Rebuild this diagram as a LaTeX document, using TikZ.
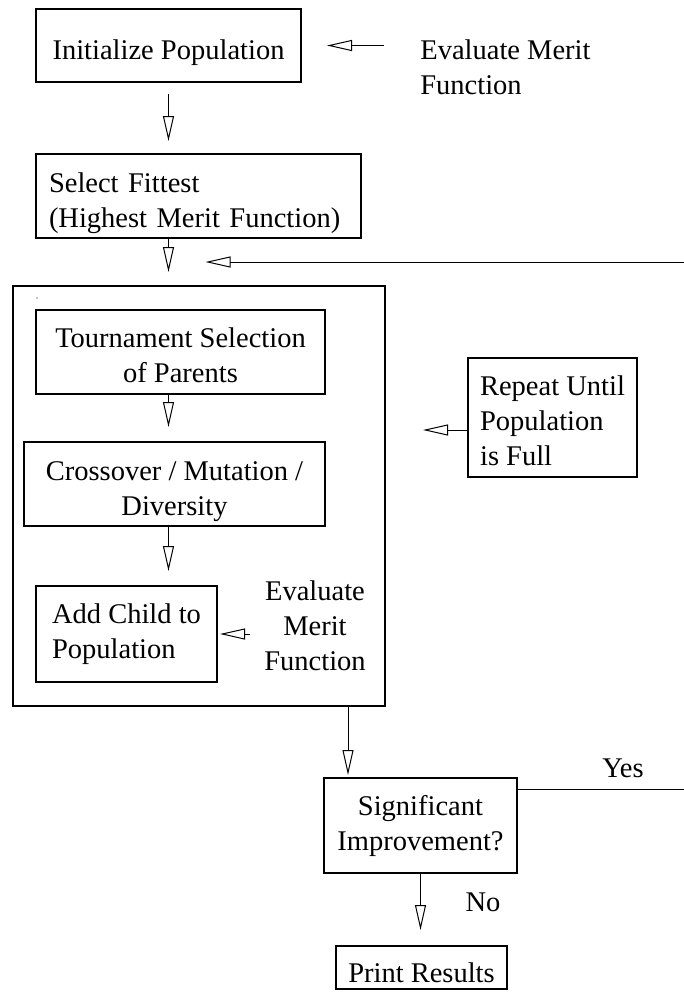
\documentclass[tikz,border=0pt]{standalone}
\usepackage{fontspec}
\setmainfont{Liberation Serif}
\usetikzlibrary{arrows.meta, calc, positioning}

\newcommand{\tdown}[1]{\rule{0pt}{#1}}

\tikzset{
  box/.style={draw, line width=0.6pt, inner sep=0pt, outer sep=0pt, align=center},
  arr/.style={-{Triangle[open, length=12.5pt, width=5.5pt]}, line width=0.5pt},
  lbl/.style={inner sep=0pt}
}

\begin{document}
\begin{tikzpicture}[x=0.5pt, y=-0.5pt, font=\fontsize{14.25pt}{17.5pt}\selectfont]
        \useasboundingbox (0,0) rectangle (684,992);

        \node [box, minimum width=132.5pt, minimum height=36.5pt, anchor=north west] (init) at (36,9) {\tdown{16.75pt}Initialize Population};
        \node [lbl, align=left, anchor=west] (evaltop) at (420,67) {Evaluate Merit\\Function};
        \node [box, text width=149.5pt, align=left, minimum width=162.5pt, minimum height=42pt, below=36pt of init.south west, anchor=north west] (fittest) {\tdown{17.25pt}Select Fittest\\(Highest Merit Function)};

        % loop of the generation
        \node [box, minimum width=186pt, minimum height=210pt, anchor=north west] (loop) at (13,286) {};
        \fill (37,298) circle (0.35pt);
        \node [box, minimum width=144.5pt, minimum height=42pt, anchor=north west] (tourn) at (36,310) {\tdown{12.75pt}Tournament Selection\\of Parents};
        \node [box, minimum width=150.5pt, minimum height=42pt, below=24pt of tourn.south west, xshift=-6pt, anchor=north west] (cross) {\tdown{16.75pt}Crossover / Mutation /\\Diversity};
        \node [box, align=left, minimum width=90.5pt, minimum height=48pt, anchor=north west] (child) at (36,586) {Add Child to\\Population};
        \node [lbl, align=center] (evalin) at (315,626) {Evaluate\\Merit\\Function};
        \node [box, align=left, minimum width=84.5pt, minimum height=59.5pt, anchor=north west] (repeat) at (468,358) {\tdown{12.75pt}Repeat Until\\Population\\is Full};

        \node [box, minimum width=96.5pt, minimum height=47.5pt, anchor=north west] (signif) at (324,778) {Significant\\Improvement?};
        \node [box, minimum width=85.5pt, minimum height=21.5pt, anchor=north west] (print) at (336,946) {\tdown{14.75pt}Print Results};
        \node [lbl] (yes) at (623,768) {Yes};
        \node [lbl] (no) at (483,902) {No};

        \coordinate (fb) at ($(init.south |- fittest.south)!0.5!(init.south |- loop.north)$);
        \coordinate (edge) at (690,0);

        \draw [arr, shorten <=18pt, shorten >=13pt] (evaltop.west |- init.east) -- (init.east);
        \draw [arr, shorten <=6pt, shorten >=6.5pt] (init.south) -- (init.south |- fittest.north);
        \draw [arr, shorten >=7pt] (init.south |- fittest.south) -- (init.south |- loop.north);
        \draw [arr, shorten >=7.5pt] (init.south |- tourn.south) -- (init.south |- cross.north);
        \draw [arr, shorten >=7.5pt] (init.south |- cross.south) -- (init.south |- child.north);
        \draw [arr, shorten <=6.75pt, shorten >=1.5pt] (evalin.west |- child.east) -- (child.east);
        \draw [arr, shorten >=19pt] ([yshift=-6.25pt]repeat.west) -- ([yshift=-6.25pt]repeat.west -| loop.east);
        \draw [arr, shorten >=1.5pt] ([xshift=12pt]signif.north west |- loop.south) -- ([xshift=12pt]signif.north west);
        \draw [arr, shorten >=8pt] (signif.south) -- (signif.south |- print.north); % no
        \draw [arr, shorten >=18.5pt] ([yshift=-5.5pt]signif.north east) -| (edge |- fb) -- (fb); % yes
\end{tikzpicture}
\end{document}
